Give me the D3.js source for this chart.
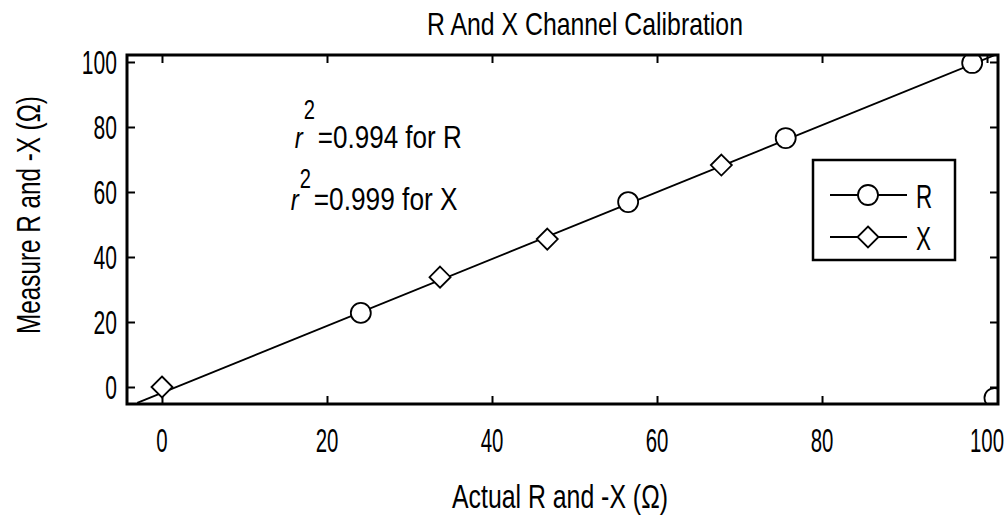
<!DOCTYPE html>
<html>
<head>
<meta charset="utf-8">
<script src="https://cdn.jsdelivr.net/npm/d3@7"></script>
<style>
  body { margin: 0; background: #fff; }
  text { font-family: "Liberation Sans", Arial, sans-serif; fill: #000; }
</style>
</head>
<body>
<svg id="chart" width="1005" height="525"></svg>
<script>
// ---- data ----
const xTickValues = [0, 20, 40, 60, 80, 100];
const yTickValues = [0, 20, 40, 60, 80, 100];
const rActual   = [24.1, 56.5, 75.6, 98.2, 100.9];
const rMeasured = [22.8, 56.9, 76.6, 99.7, -3.4];
const xActual   = [0, 33.7, 46.7, 67.8];
const xMeasured = [0, 33.8, 45.5, 68.3];
const fitActual   = [-3.0, 101.5];
const fitMeasured = [-4.9, 102.7];
const seriesNames = ["R", "X"];
const rSquared = [0.994, 0.999];
const annotationAnchors = [[16.1, 73.5], [15.6, 54.5]];

// ---- layout ----
const W = 1005, H = 525;
const margin = { top: 55, right: 7, bottom: 121, left: 127 };
const svg = d3.select("#chart");

const x = d3.scaleLinear().domain([-4.24, 101.33]).range([margin.left, W - margin.right]);
const y = d3.scaleLinear().domain([-5.23, 102.15]).range([H - margin.bottom, margin.top]);

// narrow text: a label drawn at (px, py) and compressed horizontally by k
function narrowText(parent, px, py, str, size, k, anchor) {
  const g = parent.append("g").attr("transform", `translate(${px},${py}) scale(${k},1)`);
  return g.append("text").attr("x", 0).attr("y", 0)
    .attr("font-size", size).attr("text-anchor", anchor || "start").text(str);
}

svg.append("defs").append("clipPath").attr("id", "plotClip")
  .append("rect")
  .attr("x", x.range()[0]).attr("y", y.range()[1])
  .attr("width", x.range()[1] - x.range()[0])
  .attr("height", y.range()[0] - y.range()[1]);

// ---- inward ticks on all four sides ----
const tickLen = 8;
function styleAxis(g) {
  g.select(".domain").remove();
  g.selectAll(".tick line").attr("stroke", "#000").attr("stroke-width", 2);
  g.selectAll(".tick text").remove();
}
svg.append("g").attr("transform", `translate(0,${y.range()[0]})`)
  .call(d3.axisBottom(x).tickValues(xTickValues).tickSize(-tickLen)).call(styleAxis);
svg.append("g").attr("transform", `translate(0,${y.range()[1]})`)
  .call(d3.axisTop(x).tickValues(xTickValues).tickSize(-tickLen)).call(styleAxis);
svg.append("g").attr("transform", `translate(${x.range()[0]},0)`)
  .call(d3.axisLeft(y).tickValues(yTickValues).tickSize(-tickLen)).call(styleAxis);
svg.append("g").attr("transform", `translate(${x.range()[1]},0)`)
  .call(d3.axisRight(y).tickValues(yTickValues).tickSize(-tickLen)).call(styleAxis);

// tick labels
const xLab = svg.append("g");
xTickValues.forEach(d => narrowText(xLab, x(d), y.range()[0] + 48, d, 34, 0.6, "middle"));
const yLab = svg.append("g");
yTickValues.forEach(d => narrowText(yLab, x.range()[0] - 10, y(d) + 12, d, 34, 0.62, "end"));

// ---- data marks ----
const plot = svg.append("g").attr("clip-path", "url(#plotClip)");

const fitPts = fitActual.map((v, i) => [v, fitMeasured[i]]);
plot.append("path")
  .attr("d", d3.line().x(d => x(d[0])).y(d => y(d[1]))(fitPts))
  .attr("fill", "none").attr("stroke", "#000").attr("stroke-width", 1.8);

const diamond = r => `M0,${-r}L${r},0L0,${r}L${-r},0Z`;

plot.selectAll(".rpt").data(rActual.map((v, i) => [v, rMeasured[i]])).join("circle")
  .attr("class", "rpt")
  .attr("cx", d => x(d[0])).attr("cy", d => y(d[1])).attr("r", 10)
  .attr("fill", "#fff").attr("stroke", "#000").attr("stroke-width", 1.8);

plot.selectAll(".xpt").data(xActual.map((v, i) => [v, xMeasured[i]])).join("path")
  .attr("class", "xpt")
  .attr("transform", d => `translate(${x(d[0])},${y(d[1])})`)
  .attr("d", diamond(10.5))
  .attr("fill", "#fff").attr("stroke", "#000").attr("stroke-width", 1.8);

// plot frame
svg.append("rect")
  .attr("x", x.range()[0]).attr("y", y.range()[1])
  .attr("width", x.range()[1] - x.range()[0])
  .attr("height", y.range()[0] - y.range()[1])
  .attr("fill", "none").attr("stroke", "#000").attr("stroke-width", 3);

// ---- r-squared annotations ----
rSquared.forEach((v, i) => {
  const ax = x(annotationAnchors[i][0]), ay = y(annotationAnchors[i][1]);
  narrowText(svg, ax, ay, "r", 30, 0.8).attr("font-style", "italic");
  narrowText(svg, ax + 9, ay + (i === 0 ? -29 : -22), "2", 28, 0.72);
  const t = narrowText(svg, ax + 23, ay, `=${v.toFixed(3)} for ${seriesNames[i]}`, 32, 1);
  const k = 144 / t.node().getComputedTextLength();
  d3.select(t.node().parentNode).attr("transform", `translate(${ax + 23},${ay}) scale(${k},1)`);
});

// ---- legend ----
const legend = svg.append("g");
legend.append("rect").attr("x", 813).attr("y", 160).attr("width", 142).attr("height", 100)
  .attr("fill", "#fff").attr("stroke", "#000").attr("stroke-width", 2.5);
seriesNames.forEach((name, i) => {
  const ly = 195 + i * 42;
  legend.append("line").attr("x1", 830).attr("x2", 907).attr("y1", ly).attr("y2", ly)
    .attr("stroke", "#000").attr("stroke-width", 2);
  if (i === 0) {
    legend.append("circle").attr("cx", 868).attr("cy", ly).attr("r", 10)
      .attr("fill", "#fff").attr("stroke", "#000").attr("stroke-width", 1.8);
  } else {
    legend.append("path").attr("transform", `translate(868,${ly})`).attr("d", diamond(10.5))
      .attr("fill", "#fff").attr("stroke", "#000").attr("stroke-width", 1.8);
  }
  narrowText(legend, 916, ly + 13, name, 34, 0.66);
});

// ---- titles (fitted to their widths) ----
function fittedText(px, py, str, size, width, rotate) {
  const g = svg.append("g");
  const t = g.append("text").attr("font-size", size).attr("text-anchor", "middle").text(str);
  const k = width / t.node().getComputedTextLength();
  g.attr("transform", `translate(${px},${py})${rotate ? " rotate(-90)" : ""} scale(${k},1)`);
  return t;
}
fittedText(585, 35, "R And X Channel Calibration", 31, 316);
fittedText(560, 508, "Actual R and -X (\u03A9)", 34, 216);
fittedText(40, 215, "Measure R and -X (\u03A9)", 34, 238, true);
</script>
</body>
</html>
